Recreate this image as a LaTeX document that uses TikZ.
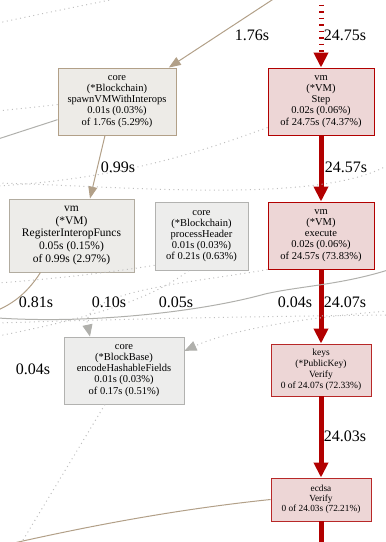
\documentclass[tikz,border=0pt]{standalone}
\usepackage{fontspec}
\setmainfont{Liberation Serif}
\usetikzlibrary{arrows.meta}

\definecolor{hotred}{RGB}{178,0,0}
\definecolor{hotfill}{RGB}{237,214,214}
\definecolor{warmred}{RGB}{184,40,40}
\definecolor{tanclr}{RGB}{178,160,136}
\definecolor{tanfill}{RGB}{237,235,231}
\definecolor{regclr}{RGB}{178,172,160}
\definecolor{regfill}{RGB}{237,236,233}
\definecolor{coldclr}{RGB}{178,178,176}
\definecolor{coldfill}{RGB}{237,237,236}
\definecolor{dotclr}{RGB}{190,190,190}
\definecolor{greyclr}{RGB}{176,176,172}

\tikzset{
  fn/.style={draw, rectangle, align=center, inner sep=0pt, line width=0.9pt},
  fsmall/.style={font=\fontsize{10.5}{11.1}\selectfont},
  hotnode/.style={fn, fill=hotfill, draw=hotred},
  warmnode/.style={fn, fill=hotfill, draw=warmred},
  tannode/.style={fn, fill=tanfill, draw=tanclr},
  lbl/.style={font=\fontsize{16}{16}\selectfont, inner sep=0pt},
  hotedge/.style={draw=hotred, line width=5pt, -{Triangle[length=15pt,width=14pt]}},
  hotdash/.style={hotedge, dash pattern=on 1.5pt off 5pt},
  tanedge/.style={draw=tanclr, line width=1pt, -{Triangle[length=12pt,width=9pt]}},
  greyedge/.style={draw=greyclr, line width=1pt},
  dotedge/.style={draw=dotclr, line width=1pt, dash pattern=on 1pt off 3.5pt},
  dottip/.style={dotedge, -{Triangle[length=12pt,width=10pt,color=greyclr,fill=greyclr]}}
}

\begin{document}
\begin{tikzpicture}[x=1pt, y=-1pt]
  \useasboundingbox (0,0) rectangle (386,542);

  % functions
  \node[tannode, fsmall, minimum width=118pt, minimum height=67pt] (spawn) at (117,101.5)
    {core\\(*Blockchain)\\spawnVMWithInterops\\0.01s (0.03\%)\\of 1.76s (5.29\%)};
  \node[hotnode, fsmall, minimum width=106pt, minimum height=67pt] (step) at (321,101.5)
    {vm\\(*VM)\\Step\\0.02s (0.06\%)\\of 24.75s (74.37\%)};
  \node[fn, fill=regfill, draw=regclr, font=\fontsize{11.5}{12.7}\selectfont,
    minimum width=125pt, minimum height=73pt] (reg) at (71.5,235.5)
    {vm\\(*VM)\\RegisterInteropFuncs\\0.05s (0.15\%)\\of 0.99s (2.97\%)};
  \node[fn, fill=coldfill, draw=coldclr, fsmall, minimum width=93pt, minimum height=68pt] (proc) at (201.5,236)
    {core\\(*Blockchain)\\processHeader\\0.01s (0.03\%)\\of 0.21s (0.63\%)};
  \node[hotnode, fsmall, minimum width=106pt, minimum height=67pt] (exec) at (321,235.5)
    {vm\\(*VM)\\execute\\0.02s (0.06\%)\\of 24.57s (73.83\%)};
  \node[fn, fill=coldfill, draw=coldclr, fsmall, minimum width=120pt, minimum height=67pt] (enc) at (124,370.5)
    {core\\(*BlockBase)\\encodeHashableFields\\0.01s (0.03\%)\\of 0.17s (0.51\%)};
  \node[warmnode, font=\fontsize{9.5}{11}\selectfont, minimum width=100pt, minimum height=52pt] (keys) at (321,370)
    {keys\\(*PublicKey)\\Verify\\0 of 24.07s (72.33\%)};
  \node[warmnode, font=\fontsize{9.3}{10}\selectfont, minimum width=100pt, minimum height=43pt] (ecdsa) at (321,499.5)
    {ecdsa\\Verify\\0 of 24.03s (72.21\%)};

  % free ends
  \coordinate (inSpawn) at (275,-2);
  \coordinate (inStep) at (321,-2);
  \coordinate (outEcdsa) at (321,545);
  \coordinate (outReg) at (-2,310);
  \coordinate (tlA) at (-2,23);
  \coordinate (tlB) at (120,-2);
  \coordinate (lSpawnDot) at (-2,111);
  \coordinate (lSpawnLine) at (-2,139);
  \coordinate (lStep) at (-2,186);
  \coordinate (lMidA) at (-2,183);
  \coordinate (rMidA) at (388,165);
  \coordinate (lProc) at (-2,283);
  \coordinate (lProcB) at (-2,336);
  \coordinate (lMidB) at (-2,323);
  \coordinate (rMidB) at (388,315);
  \coordinate (rEnc) at (388,311);
  \coordinate (lGrey) at (-2,318);
  \coordinate (midGrey) at (265,294);
  \coordinate (rGrey) at (388,270);
  \coordinate (bEnc) at (20,545);
  \coordinate (bEcdsa) at (5,545);

  % hot path
  \draw[hotdash] (inStep) -- (step);
  \draw[hotedge] (step) -- (exec);
  \draw[hotedge] (exec) -- (keys);
  \draw[hotedge] (keys) -- (ecdsa);
  \draw[draw=hotred, line width=5pt] (ecdsa) -- (outEcdsa);

  % other calls
  \draw[tanedge] (inSpawn) -- (spawn);
  \draw[tanedge] ([xshift=-12pt]spawn.south) -- ([xshift=18.5pt]reg.north);
  \draw[draw=tanclr, line width=1pt] ([xshift=-31pt]reg.south) .. controls (28,292) and (14,303) .. (outReg);
  \draw[dotedge] (tlA) .. controls (40,14) and (80,6) .. (tlB);
  \draw[dotedge] (spawn.183) -- (lSpawnDot);
  \draw[greyedge] (spawn.197) -- (lSpawnLine);
  \draw[dotedge] (step.206) .. controls (210,148) and (130,178) .. (lStep);
  \draw[dotedge] (lMidA) .. controls (120,186) and (320,205) .. (rMidA);
  \draw[dotedge] (proc.212) .. controls (100,274) and (40,280) .. (lProc);
  \draw[dottip] (exec.south west) .. controls (200,282) and (80,290) .. ([xshift=-34pt]enc.north);
  \draw[dotedge] (proc.250) .. controls (150,300) and (90,318) .. (lProcB);
  \draw[dotedge] (lMidB) .. controls (150,318) and (300,316) .. (rMidB);
  \draw[dottip] (rEnc) .. controls (300,318) and (230,330) .. (enc.18);
  \draw[greyedge] (lGrey) .. controls (90,324) and (200,312) .. (midGrey)
    .. controls (300,286) and (340,285) .. (rGrey);
  \draw[dotedge] ([xshift=-19pt]enc.south) -- (bEnc);
  \draw[draw=tanclr, line width=1pt] (ecdsa.west) .. controls (170,510) and (80,528) .. (bEcdsa);

  % edge labels
  \node[lbl] (tSpawn) at (252,35) {1.76s};
  \node[lbl] (tStep) at (345,35) {24.75s};
  \node[lbl] (tExec) at (346,167) {24.57s};
  \node[lbl] (tReg) at (118,167) {0.99s};
  \node[lbl] (tOutReg) at (36,302) {0.81s};
  \node[lbl] (tEncTop) at (109,302) {0.10s};
  \node[lbl] (tProc) at (176,302) {0.05s};
  \node[lbl] (tEncRight) at (295,302) {0.04s};
  \node[lbl] (tKeys) at (345,302) {24.07s};
  \node[lbl] (tLeft) at (33,369) {0.04s};
  \node[lbl] (tEcdsa) at (345,436) {24.03s};
\end{tikzpicture}
\end{document}
